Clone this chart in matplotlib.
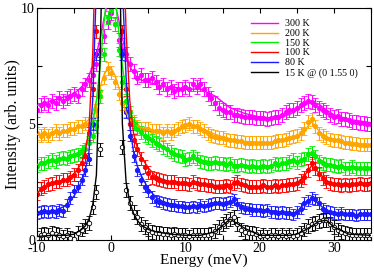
import numpy as np
import matplotlib
matplotlib.use("Agg")
import matplotlib.pyplot as plt
from matplotlib.ticker import MultipleLocator

plt.rcParams["font.family"] = ["Liberation Serif", "DejaVu Serif"]
plt.rcParams["axes.unicode_minus"] = False

# energy grid of the measured points (meV)
energy = np.arange(-10, 35.5, 0.5)

labels = ["300 K", "200 K", "150 K", "100 K", "80 K", "15 K @ (0 1.55 0)"]
colors = ["#ff00ff", "#ffa500", "#00ee00", "#ff0000", "#1a1aff", "#000000"]

i_300 = [5.6, 5.8, 5.9, 5.8, 6.0, 5.9, 6.1, 6.0, 6.1, 6.2,
         6.3, 6.2, 6.5, 6.7, 6.9, 7.1, 7.6, 8.2, 8.8, 9.4,
         9.8, 9.3, 8.6, 8.2, 8.0, 7.6, 7.3, 7.0, 7.1, 6.9,
         6.9, 7.0, 6.8, 6.6, 6.7, 6.5, 6.6, 6.4, 6.5, 6.5,
         6.6, 6.5, 6.7, 6.6, 6.7, 6.5, 6.3, 6.1, 5.9, 5.7,
         5.6, 5.5, 5.5, 5.4, 5.4, 5.35, 5.3, 5.3, 5.3, 5.25,
         5.25, 5.25, 5.2, 5.25, 5.3, 5.3, 5.4, 5.5, 5.6, 5.6,
         5.7, 5.8, 5.9, 6.0, 5.95, 5.8, 5.7, 5.6, 5.5, 5.4,
         5.3, 5.35, 5.2, 5.2, 5.15, 5.1, 5.1, 5.05, 5.05, 5.0,
         5.0]
i_200 = [4.6, 4.5, 4.6, 4.5, 4.6, 4.7, 4.6, 4.7, 4.7, 4.8,
         4.8, 4.9, 4.9, 5.0, 5.0, 5.2, 5.6, 6.4, 7.0, 7.4,
         7.2, 6.8, 6.3, 5.9, 5.6, 5.3, 5.1, 4.9, 4.8, 4.8,
         4.8, 4.7, 4.7, 4.7, 4.6, 4.7, 4.6, 4.7, 4.8, 4.9,
         4.95, 5.0, 4.9, 4.9, 4.8, 4.7, 4.6, 4.5, 4.45, 4.4,
         4.4, 4.35, 4.3, 4.3, 4.25, 4.25, 4.2, 4.2, 4.2, 4.2,
         4.2, 4.2, 4.2, 4.2, 4.25, 4.3, 4.3, 4.35, 4.4, 4.45,
         4.5, 4.6, 4.8, 5.1, 5.2, 4.9, 4.6, 4.5, 4.4, 4.35,
         4.3, 4.3, 4.25, 4.2, 4.2, 4.15, 4.15, 4.1, 4.1, 4.1,
         4.1]
i_150 = [3.2, 3.3, 3.3, 3.4, 3.45, 3.4, 3.5, 3.55, 3.5, 3.6,
         3.65, 3.7, 3.8, 3.9, 4.2, 4.5, 4.9, 6.2, 8.0, 9.6,
         9.9, 9.3, 8.2, 6.8, 6.0, 5.5, 5.0, 4.8, 4.65, 4.5,
         4.4, 4.3, 4.2, 4.1, 4.0, 3.9, 3.8, 3.7, 3.65, 3.6,
         3.45, 3.5, 3.6, 3.5, 3.4, 3.35, 3.3, 3.3, 3.35, 3.3,
         3.3, 3.25, 3.3, 3.2, 3.2, 3.25, 3.2, 3.15, 3.2, 3.15,
         3.15, 3.2, 3.15, 3.2, 3.3, 3.25, 3.3, 3.3, 3.4, 3.45,
         3.35, 3.45, 3.5, 3.7, 3.75, 3.6, 3.4, 3.3, 3.25, 3.25,
         3.2, 3.15, 3.2, 3.1, 3.1, 3.15, 3.1, 3.1, 3.1, 3.1,
         3.1]
i_100 = [2.0, 2.2, 2.3, 2.4, 2.45, 2.5, 2.5, 2.6, 2.6, 2.7,
         2.8, 3.0, 3.3, 3.6, 4.6, 6.5, 9.0, 11.5, 13, 14,
         14, 13, 11.5, 9.0, 6.5, 5.0, 4.3, 3.9, 3.5, 3.15,
         2.9, 2.7, 2.65, 2.6, 2.55, 2.5, 2.5, 2.5, 2.45, 2.45,
         2.45, 2.4, 2.5, 2.45, 2.4, 2.4, 2.35, 2.35, 2.3, 2.3,
         2.3, 2.35, 2.3, 2.45, 2.5, 2.4, 2.35, 2.3, 2.3, 2.3,
         2.3, 2.35, 2.3, 2.3, 2.35, 2.3, 2.35, 2.35, 2.4, 2.4,
         2.45, 2.55, 2.7, 3.0, 3.3, 3.1, 2.85, 2.65, 2.5, 2.45,
         2.4, 2.4, 2.35, 2.4, 2.35, 2.4, 2.4, 2.45, 2.4, 2.4,
         2.45]
i_80 = [1.15, 1.2, 1.25, 1.2, 1.25, 1.2, 1.3, 1.25, 1.5, 1.8,
        2.1, 2.3, 2.6, 3.0, 3.5, 5.0, 8.0, 11, 13, 14,
        14, 13, 11, 8.0, 5.5, 4.5, 3.6, 3.0, 2.6, 2.3,
        2.1, 1.85, 1.7, 1.65, 1.6, 1.55, 1.5, 1.5, 1.45, 1.45,
        1.4, 1.4, 1.45, 1.4, 1.5, 1.45, 1.5, 1.55, 1.6, 1.6,
        1.55, 1.6, 1.65, 1.75, 1.55, 1.4, 1.35, 1.35, 1.3, 1.3,
        1.3, 1.25, 1.3, 1.2, 1.2, 1.15, 1.2, 1.15, 1.15, 1.1,
        1.2, 1.35, 1.6, 1.7, 1.8, 1.75, 1.6, 1.35, 1.25, 1.2,
        1.15, 1.1, 1.15, 1.1, 1.1, 1.1, 1.05, 1.1, 1.1, 1.1,
        1.1]
i_15 = [0.1, 0.2, 0.25, 0.2, 0.3, 0.25, 0.2, 0.15, 0.2, 0.1,
        0.05, 0.3, 0.45, 0.6, 0.75, 1.4, 2.05, 3.9, 12, 20,
        20, 15, 12, 4.0, 2.15, 1.6, 1.2, 1.0, 0.7, 0.55,
        0.45, 0.35, 0.3, 0.3, 0.25, 0.25, 0.2, 0.25, 0.2, 0.2,
        0.2, 0.15, 0.2, 0.2, 0.2, 0.2, 0.2, 0.25, 0.4, 0.55,
        0.7, 0.8, 0.9, 1.0, 0.7, 0.45, 0.35, 0.3, 0.3, 0.25,
        0.15, 0.2, 0.15, 0.2, 0.2, 0.15, 0.2, 0.15, 0.2, 0.15,
        0.2, 0.3, 0.45, 0.6, 0.7, 0.75, 0.8, 0.85, 0.85, 0.7,
        0.55, 0.45, 0.35, 0.3, 0.25, 0.2, 0.2, 0.2, 0.2, 0.2,
        0.2]
errors = [0.3, 0.28, 0.28, 0.28, 0.25, 0.3]

# fitted curves, sampled on a finer grid near the elastic line
e_fit = [-10, -8, -6, -5, -4, -3.5, -3, -2.5, -2, -1.5, -1, -0.5, 0, 0.5,
         1, 1.5, 2, 2.5, 3, 3.5, 4, 5, 6, 7, 8, 10, 12, 14, 16, 18, 20,
         22, 24, 25, 26, 27, 28, 29, 30, 32, 35]
f_300 = [5.8, 6.0, 6.2, 6.3, 6.6, 6.8, 7.1, 7.5, 8.0, 8.7, 9.5, 10.2, 10.5, 10.2,
         9.5, 8.7, 8.0, 7.5, 7.2, 7.0, 6.9, 6.8, 6.7, 6.6, 6.6, 6.5, 6.5, 6.2, 5.7, 5.45, 5.3,
         5.25, 5.4, 5.6, 5.8, 5.95, 5.85, 5.6, 5.4, 5.2, 5.05]
f_200 = [4.55, 4.6, 4.7, 4.8, 4.95, 5.05, 5.2, 5.5, 6.0, 6.6, 7.1, 7.4, 7.4, 7.1,
         6.6, 6.0, 5.5, 5.2, 5.0, 4.9, 4.85, 4.75, 4.7, 4.7, 4.7, 4.8, 4.85, 4.55, 4.35, 4.25, 4.2,
         4.2, 4.3, 4.45, 4.7, 5.1, 4.7, 4.4, 4.3, 4.2, 4.1]
f_150 = [3.25, 3.4, 3.55, 3.65, 3.9, 4.1, 4.4, 5.0, 6.0, 7.5, 9.3, 10.8, 11.2, 10.5,
         9.0, 7.5, 6.4, 5.6, 5.1, 4.8, 4.6, 4.35, 4.2, 4.0, 3.8, 3.5, 3.45, 3.35, 3.25, 3.2, 3.15,
         3.2, 3.3, 3.35, 3.5, 3.7, 3.5, 3.3, 3.2, 3.15, 3.1]
f_100 = [2.05, 2.4, 2.6, 2.85, 3.3, 3.8, 4.8, 8.0, 14, 22, 30, 35, 35, 30,
         22, 14, 9.0, 6.0, 4.6, 4.0, 3.6, 3.1, 2.75, 2.6, 2.5, 2.45, 2.4, 2.35, 2.4, 2.35, 2.3,
         2.3, 2.35, 2.45, 2.75, 3.2, 2.9, 2.55, 2.4, 2.4, 2.4]
f_80 = [1.15, 1.2, 1.5, 1.9, 2.5, 3.0, 3.8, 6.0, 11, 20, 28, 33, 33, 28,
        20, 11, 7.0, 4.9, 3.8, 3.2, 2.8, 2.2, 1.85, 1.65, 1.55, 1.42, 1.45, 1.55, 1.65, 1.45, 1.3,
        1.25, 1.15, 1.2, 1.55, 1.8, 1.55, 1.25, 1.15, 1.1, 1.1]
f_15 = [0.15, 0.2, 0.2, 0.25, 0.45, 0.6, 0.9, 1.5, 2.8, 8.0, 15, 40, 60, 40,
        15, 5.0, 2.5, 1.6, 1.15, 0.85, 0.65, 0.45, 0.35, 0.3, 0.25, 0.2, 0.2, 0.35, 0.9, 0.5, 0.2,
        0.2, 0.2, 0.25, 0.4, 0.6, 0.8, 0.85, 0.55, 0.25, 0.2]

data = [i_300, i_200, i_150, i_100, i_80, i_15]
fits = [f_300, f_200, f_150, f_100, f_80, f_15]

fig = plt.figure(figsize=(3.74, 2.73), dpi=100)
ax = fig.add_axes([0.099, 0.121, 0.893, 0.85])

for k in range(len(labels)):
    c = colors[k]
    face = "white" if k == len(labels) - 1 else c
    ax.errorbar(energy, data[k], yerr=errors[k], fmt="o", color=c, ecolor=c,
                markerfacecolor=face, markeredgecolor=c, markersize=3.2,
                markeredgewidth=0.6, elinewidth=0.8, capsize=2.2, capthick=0.8,
                zorder=2 + k * 0.1)
    ax.plot(e_fit, fits[k], "-", color=c, lw=1.0, label=labels[k], zorder=3 + k * 0.1)

ax.set_xlim(-10, 35)
ax.set_ylim(0, 10)
ax.xaxis.set_major_locator(MultipleLocator(10))
ax.xaxis.set_minor_locator(MultipleLocator(5))
ax.yaxis.set_major_locator(MultipleLocator(5))
ax.yaxis.set_minor_locator(MultipleLocator(2.5))
ax.tick_params(which="both", direction="in", top=True, right=True,
               labelsize=10, pad=1.5)
ax.tick_params(which="major", length=3.5, width=0.8)
ax.tick_params(which="minor", length=3.5, width=0.8)
ax.set_xlabel("Energy (meV)", fontsize=11, labelpad=-1)
ax.set_ylabel("Intensity (arb. units)", fontsize=11.5, labelpad=0)

ax.legend(loc="upper right", fontsize=7.2, frameon=False, handlelength=2.7,
          labelspacing=0.07, handletextpad=0.7, borderaxespad=0.4,
          bbox_to_anchor=(0.985, 0.985))

fig.savefig("out.png", dpi=100)
plt.close(fig)
